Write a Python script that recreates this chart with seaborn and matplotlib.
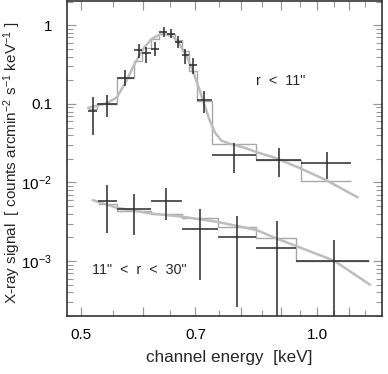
import matplotlib
matplotlib.use('Agg')
import matplotlib.pyplot as plt
import matplotlib.ticker as mticker
import seaborn as sns
import pandas as pd
import numpy as np

# inner region r < 11"
inner_edges = [0.511, 0.525, 0.556, 0.584, 0.599, 0.614, 0.629, 0.644, 0.659,
               0.673, 0.688, 0.703, 0.734, 0.837, 0.955, 1.105]
inner_x = [0.518, 0.540, 0.570, 0.593, 0.605, 0.621, 0.638, 0.651, 0.666,
           0.680, 0.695, 0.717, 0.785, 0.894, 1.029]
inner_y = [0.082, 0.100, 0.213, 0.483, 0.442, 0.506, 0.823, 0.783, 0.609,
           0.417, 0.315, 0.112, 0.0226, 0.0195, 0.0177]
inner_hi = [0.121, 0.131, 0.272, 0.585, 0.531, 0.620, 0.952, 0.890, 0.732,
            0.506, 0.382, 0.147, 0.0317, 0.0277, 0.0244]
inner_lo = [0.040, 0.068, 0.171, 0.389, 0.336, 0.409, 0.717, 0.685, 0.520,
            0.321, 0.240, 0.077, 0.0134, 0.0118, 0.0112]
inner_step = [0.0871, 0.1008, 0.215, 0.353, 0.516, 0.661, 0.765, 0.776, 0.652,
              0.473, 0.264, 0.110, 0.0312, 0.0195, 0.0105]
inner_mx = [0.511, 0.540, 0.556, 0.572, 0.584, 0.600, 0.615, 0.631, 0.643,
            0.656, 0.668, 0.682, 0.695, 0.716, 0.730, 0.741, 0.755, 0.770,
            0.808, 0.837, 0.883, 0.955, 1.027, 1.127]
inner_my = [0.089, 0.102, 0.121, 0.197, 0.305, 0.497, 0.665, 0.769, 0.769,
            0.711, 0.575, 0.409, 0.264, 0.110, 0.0615, 0.0437, 0.0343, 0.0317,
            0.0277, 0.0244, 0.0207, 0.0150, 0.0107, 0.00646]

# outer ring 11" < r < 30"
outer_edges = [0.526, 0.556, 0.614, 0.674, 0.747, 0.837, 0.939, 1.164]
outer_x = [0.540, 0.584, 0.643, 0.709, 0.791, 0.889, 1.052]
outer_y = [0.00585, 0.00455, 0.00585, 0.00256, 0.00201, 0.00145, 0.00101]
outer_hi = [0.00924, 0.00711, 0.00839, 0.00459, 0.00378, 0.00324, 0.00186]
outer_lo = [0.0023, 0.00213, 0.00333, 0.000568, 0.000262, 0.0001, 0.0001]
outer_step = [0.00535, 0.00433, 0.00397, 0.00353, 0.00274, 0.00199, 0.00099]
outer_mx = [0.518, 0.556, 0.612, 0.674, 0.744, 0.837, 0.887, 1.052, 1.168]
outer_my = [0.00597, 0.00477, 0.00405, 0.00367, 0.00317, 0.00249, 0.00195,
            0.00101, 0.000501]

x_ticks = [0.5, 0.6, 0.7, 0.8, 0.9, 1.0, 1.1]
x_ticklabels = ['0.5', '', '0.7', '', '', '1.0', '']
y_ticks = [1e-3, 1e-2, 0.1, 1]
y_ticklabels = ['10$^{-3}$', '10$^{-2}$', '0.1', '1']

sns.set_theme(style='ticks')
plt.rcParams['font.family'] = ['Liberation Sans', 'DejaVu Sans']
plt.rcParams['mathtext.fontset'] = 'custom'
plt.rcParams['mathtext.rm'] = 'Liberation Sans'
plt.rcParams['mathtext.default'] = 'regular'

fig = plt.figure(figsize=(3.88, 3.74), dpi=100)
ax = fig.add_axes([0.172, 0.155, 0.8125, 0.842])

model_col = '#bdbdbd'
step_col = '#a8a8a8'
data_col = '#2a2a2a'

for edges, step, mx, my, x, y, lo, hi in [
        (inner_edges, inner_step, inner_mx, inner_my, inner_x, inner_y, inner_lo, inner_hi),
        (outer_edges, outer_step, outer_mx, outer_my, outer_x, outer_y, outer_lo, outer_hi)]:
    ax.stairs(step, edges, color=step_col, lw=1.0, baseline=None)
    df_m = pd.DataFrame({'E': mx, 'S': my})
    sns.lineplot(data=df_m, x='E', y='S', ax=ax, color=model_col, lw=1.8,
                 sort=False, estimator=None)
    e = np.array(edges)
    xc = np.array(x)
    yc = np.array(y)
    xerr = [xc - e[:-1], e[1:] - xc]
    yerr = [yc - np.array(lo), np.array(hi) - yc]
    ax.errorbar(xc, yc, xerr=xerr, yerr=yerr, fmt='none', ecolor=data_col,
                elinewidth=1.1, capsize=0)

ax.set_xscale('log')
ax.set_yscale('log')
ax.set_xlim(0.48, 1.21)
ax.set_ylim(2.0e-4, 2.03)

ax.xaxis.set_major_locator(mticker.FixedLocator(x_ticks))
ax.xaxis.set_major_formatter(mticker.FixedFormatter(x_ticklabels))
ax.xaxis.set_minor_locator(mticker.FixedLocator(
    [0.55, 0.65, 0.75, 0.85, 0.95, 1.05, 1.15]))
ax.xaxis.set_minor_formatter(mticker.NullFormatter())
ax.yaxis.set_major_locator(mticker.FixedLocator(y_ticks))
ax.yaxis.set_major_formatter(mticker.FixedFormatter(y_ticklabels))
ax.yaxis.set_minor_locator(mticker.LogLocator(base=10, subs=np.arange(2, 10)))
ax.yaxis.set_minor_formatter(mticker.NullFormatter())

ax.tick_params(which='both', direction='in', top=True, right=True,
               color='#999999', labelcolor='black', labelsize=11)
ax.tick_params(which='major', length=6.5, width=0.9)
ax.tick_params(which='minor', length=4, width=0.8)
ax.tick_params(axis='x', which='major', pad=8.5)
ax.tick_params(axis='y', which='major', pad=10.5)

for s in ax.spines.values():
    s.set_color('#333333')
    s.set_linewidth(1.2)

ax.set_xlabel('channel energy  [keV]', fontsize=12.3)
ax.set_ylabel('X-ray signal  [ counts arcmin$^{-2}$ s$^{-1}$ keV$^{-1}$ ]',
              fontsize=11.0)
ax.xaxis.set_label_coords(0.515, -0.108)
ax.yaxis.set_label_coords(-0.14, 0.485)

ax.text(0.90, 0.193, 'r  <  11"', fontsize=10.3, ha='center', va='center')
ax.text(0.593, 0.000776, '11"  <  r  <  30"', fontsize=10.3,
        ha='center', va='center')

plt.savefig('out.png', dpi=100)
